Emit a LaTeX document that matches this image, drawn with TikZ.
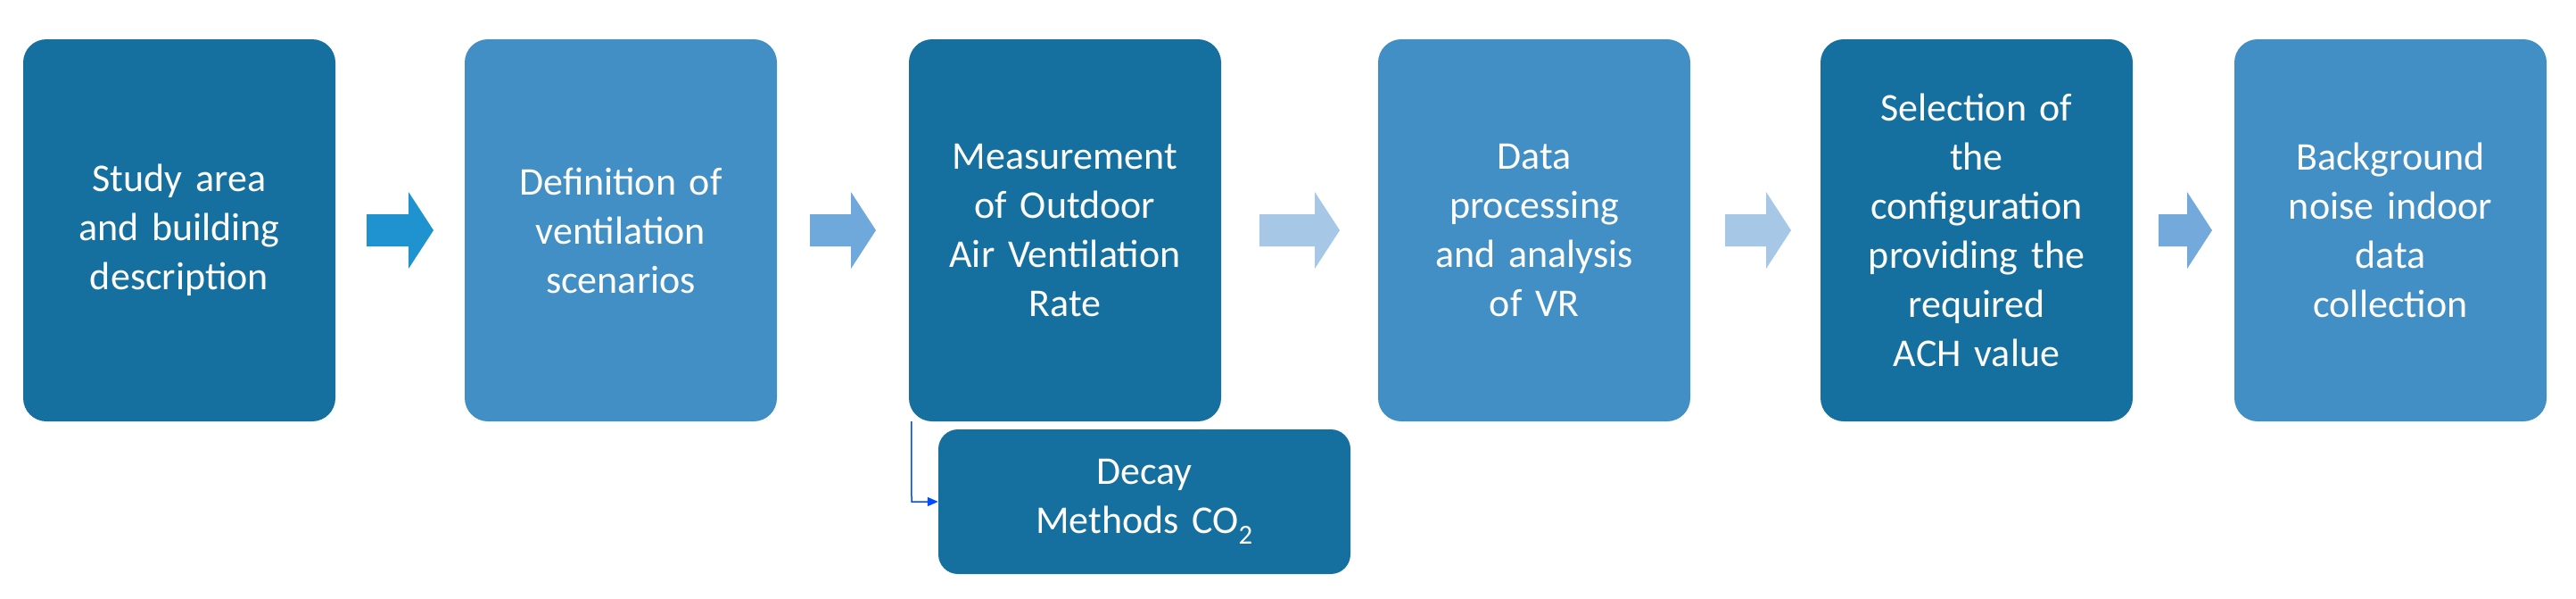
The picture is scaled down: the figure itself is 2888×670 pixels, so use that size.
\documentclass[tikz,border=0pt]{standalone}
\usepackage{fontspec}
\setmainfont{Carlito}
\usetikzlibrary{arrows.meta}
\definecolor{dk}{HTML}{15709F}
\definecolor{lt}{HTML}{418FC4}
\definecolor{a1}{HTML}{1F93CF}
\definecolor{a2}{HTML}{6FA8DA}
\definecolor{a3}{HTML}{A6C8E6}
\definecolor{a5}{HTML}{74AADB}
\begin{document}
\begin{tikzpicture}[x=1pt,y=-1pt,
  box/.style={rounded corners=26pt,minimum width=350pt,minimum height=428pt,text width=330pt,align=center,text=white,font=\fontsize{44}{55}\selectfont,inner sep=0pt},
  blk/.style={draw=none}]
\useasboundingbox (0,0) rectangle (2888,670);
\node[box,fill=dk] (b1) at (201,258) {Study area\\and building\\description};
\node[box,fill=lt] (b2) at (696,258) {Definition of\\ventilation\\scenarios};
\node[box,fill=dk] (b3) at (1194,258) {Measurement\\of Outdoor\\Air Ventilation\\Rate};
\node[box,fill=lt] (b4) at (1720,258) {Data\\processing\\and analysis\\of VR};
\node[box,fill=dk] (b5) at (2216,258) {Selection of\\the\\configuration\\providing the\\required\\ACH value};
\node[box,fill=lt] (b6) at (2680,258) {Background\\noise indoor\\data\\collection};
\node[box,fill=dk,minimum width=462pt,minimum height=162pt,text width=440pt,rounded corners=22pt] (d) at (1283,562) {Decay\\Methods CO\textsubscript{2}};
\coordinate (c) at (1022,562);
\draw[blue!70!cyan,line width=1.5pt,-{Triangle[length=12pt,width=10pt]}] ([xshift=3pt]b3.south west) -- (c) -- (d.west);
\newcommand{\barrow}[3]{\fill[#3] (#1,240) -- (#1+#2-28,240) -- (#1+#2-28,215) -- (#1+#2,258) -- (#1+#2-28,301) -- (#1+#2-28,276) -- (#1,276) -- cycle;}
\barrow{411}{75}{a1}
\barrow{908}{74}{a2}
\barrow{1412}{90}{a3}
\barrow{1934}{74}{a3}
\barrow{2420}{60}{a5}
\end{tikzpicture}
\end{document}
